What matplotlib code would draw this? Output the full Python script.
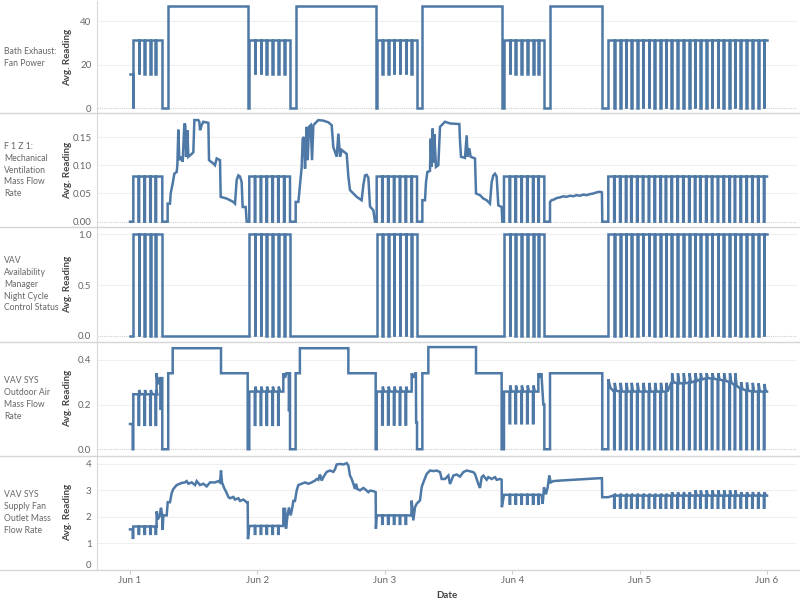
import matplotlib.pyplot as plt
import matplotlib.dates as mdates
from matplotlib.ticker import FixedLocator, FormatStrFormatter
import numpy as np
import pandas as pd

plt.rcParams['font.family'] = ['Lato', 'DejaVu Sans']

# row headers of the small multiples
row_labels = ['Bath Exhaust:\nFan Power',
              'F 1 Z 1:\nMechanical\nVentilation\nMass Flow\nRate',
              'VAV\nAvailability\nManager\nNight Cycle\nControl Status',
              'VAV SYS\nOutdoor Air\nMass Flow\nRate',
              'VAV SYS\nSupply Fan\nOutlet Mass\nFlow Rate']
row_ticks = [[0, 20, 40], [0, 0.05, 0.10, 0.15], [0, 0.5, 1.0], [0, 0.2, 0.4], [0, 1, 2, 3, 4]]
row_fmt = ['%d', '%.2f', '%.1f', '%.1f', '%d']
start_day = '2024-06-01'

# night-cycle on/off dips, hours after Jun 1 00:00
cyc_a = [1.6, 2.7, 3.8, 4.8]
cyc_b = [23.5, 24.6, 25.7, 26.8, 27.9, 29.0]
cyc_c = [47.5, 48.6, 49.7, 50.8, 51.9, 53.0]
cyc_d = [71.5, 72.6, 73.7, 74.8, 75.9, 76.9]
cyc_e = [91.2, 92.3, 93.4, 94.4, 95.5, 96.6, 97.7, 98.8, 99.9, 100.9, 102.0, 103.1, 104.2, 105.3,
         106.4, 107.4, 108.5, 109.6, 110.7, 111.8, 112.9, 113.9, 115.0, 116.1, 117.2, 118.3, 119.4]

oa_base_e = [0.262, 0.258, 0.258, 0.258, 0.258, 0.258, 0.258, 0.258, 0.258, 0.258, 0.30, 0.295, 0.295, 0.298,
             0.305, 0.312, 0.318, 0.316, 0.312, 0.307, 0.30, 0.285, 0.27, 0.262, 0.258, 0.258, 0.258]
oa_peak_e = [0.297, 0.297, 0.297, 0.297, 0.297, 0.297, 0.297, 0.297, 0.297, 0.297, 0.34, 0.34, 0.34, 0.34,
             0.34, 0.34, 0.34, 0.34, 0.34, 0.34, 0.34, 0.34, 0.30, 0.298, 0.297, 0.295, 0.292]
sf_peak_e = [2.87, 2.87, 2.87, 2.87, 2.87, 2.87, 2.87, 2.87, 2.87, 2.87, 2.93, 2.93, 2.93, 2.93,
             3.0, 3.0, 3.0, 3.0, 3.0, 3.0, 3.0, 3.0, 2.93, 2.93, 2.93, 2.93, 2.93]

# each series: ('line', [(hour, value), ...]) or ('cyc', dip hours, from, to, level, dip level, overshoot)
bath_fan = [
    ('line', [(0, 15.7), (0.5, 15.7), (0.5, 0), (0.62, 0)]),
    ('cyc', cyc_a, 0.62, 6.08, 31.3, 15.7, 31.3),
    ('line', [(6.08, 0), (7.2, 0), (7.2, 46.9), (22.17, 46.9), (22.17, 0), (22.47, 0)]),
    ('cyc', cyc_b, 22.47, 30.14, 31.3, 15.7, 31.3),
    ('line', [(30.14, 0), (31.2, 0), (31.2, 46.9), (46.28, 46.9), (46.28, 0), (46.47, 0)]),
    ('cyc', cyc_c, 46.47, 54.07, 31.3, 15.7, 31.3),
    ('line', [(54.07, 0), (55.07, 0), (55.07, 46.9), (70.13, 46.9), (70.13, 0), (70.45, 0)]),
    ('cyc', cyc_d, 70.45, 78.05, 31.3, 15.7, 31.3),
    ('line', [(78.05, 0), (79.12, 0), (79.12, 46.9), (88.97, 46.9), (88.97, 0), (90.1, 0)]),
    ('cyc', cyc_e, 90.1, 120.0, 31.3, 0, 31.3),
]

mech_vent = [
    ('line', [(0, 0), (0.62, 0)]),
    ('cyc', cyc_a, 0.62, 6.08, 0.08, 0, 0.08),
    ('line', [(6.08, 0), (7.09, 0), (7.09, 0.032), (7.53, 0.032), (7.66, 0.05), (8.04, 0.068), (8.35, 0.085),
              (8.79, 0.088), (8.92, 0.10), (9.1, 0.163), (9.29, 0.109), (9.73, 0.115), (9.92, 0.106),
              (10.24, 0.174), (10.42, 0.171), (10.55, 0.115), (10.8, 0.162), (10.99, 0.115), (11.62, 0.12),
              (11.93, 0.123), (12.12, 0.18), (12.87, 0.18), (13.06, 0.177), (13.19, 0.162), (13.5, 0.171),
              (13.81, 0.177), (14.76, 0.175), (14.88, 0.109), (15.7, 0.103), (16.01, 0.1), (16.33, 0.112),
              (16.95, 0.109), (17.08, 0.044), (18.21, 0.041), (19.47, 0.035), (19.78, 0.032), (20.09, 0.074),
              (20.41, 0.082), (20.72, 0.08), (21.03, 0.07), (21.22, 0.026), (21.79, 0.026), (21.98, 0),
              (22.47, 0)]),
    ('cyc', cyc_b, 22.47, 30.14, 0.08, 0, 0.08),
    ('line', [(30.14, 0), (31.21, 0), (31.21, 0.035), (31.71, 0.035), (31.84, 0.047), (32.34, 0.097),
              (32.53, 0.147), (32.78, 0.15), (32.97, 0.094), (33.28, 0.168), (33.47, 0.109), (33.72, 0.168),
              (34.04, 0.171), (34.29, 0.109), (34.54, 0.171), (35.48, 0.18), (36.42, 0.179), (37.36, 0.176),
              (37.99, 0.171), (38.3, 0.132), (38.93, 0.115), (39.25, 0.156), (39.56, 0.115), (39.88, 0.127),
              (40.82, 0.12), (41.13, 0.08), (41.44, 0.056), (42.7, 0.044), (43.64, 0.038), (43.96, 0.065),
              (44.27, 0.082), (44.58, 0.083), (44.9, 0.078), (45.21, 0.027), (45.84, 0.02), (46.15, 0),
              (46.47, 0)]),
    ('cyc', cyc_c, 46.47, 54.07, 0.08, 0, 0.08),
    ('line', [(54.07, 0), (55.07, 0), (55.07, 0.038), (55.57, 0.038), (55.76, 0.07), (56.01, 0.088),
              (56.51, 0.09), (56.64, 0.147), (56.83, 0.097), (57.01, 0.165), (57.14, 0.105), (57.33, 0.155),
              (57.64, 0.097), (58.08, 0.1), (58.4, 0.168), (58.71, 0.171), (59.34, 0.177), (60.28, 0.174),
              (62.04, 0.173), (62.16, 0.144), (62.35, 0.115), (63.1, 0.113), (63.42, 0.153), (63.61, 0.115),
              (63.92, 0.13), (64.17, 0.115), (64.99, 0.112), (65.18, 0.05), (65.93, 0.047), (66.56, 0.041),
              (67.19, 0.038), (67.81, 0.032), (68.13, 0.07), (68.44, 0.082), (68.76, 0.085), (69.07, 0.08),
              (69.38, 0.029), (70.01, 0.026), (70.14, 0), (70.45, 0)]),
    ('cyc', cyc_d, 70.45, 78.05, 0.08, 0, 0.08),
    ('line', [(78.05, 0), (79.12, 0), (79.12, 0.035), (79.4, 0.038), (79.8, 0.039), (80.4, 0.042),
              (81.0, 0.043), (81.6, 0.045), (82.2, 0.044), (82.9, 0.046), (83.5, 0.045), (84.1, 0.047),
              (84.8, 0.046), (85.4, 0.048), (86.0, 0.047), (86.7, 0.049), (87.3, 0.05), (87.9, 0.052),
              (88.5, 0.053), (88.9, 0.052), (88.97, 0), (90.1, 0)]),
    ('cyc', cyc_e, 90.1, 120.0, 0.08, 0, 0.08),
]

night_cycle = [
    ('line', [(0, 0), (0.62, 0)]),
    ('cyc', cyc_a, 0.62, 6.08, 1.0, 0, 1.0),
    ('line', [(6.08, 0), (22.47, 0)]),
    ('cyc', cyc_b, 22.47, 30.14, 1.0, 0, 1.0),
    ('line', [(30.14, 0), (46.47, 0)]),
    ('cyc', cyc_c, 46.47, 54.07, 1.0, 0, 1.0),
    ('line', [(54.07, 0), (70.45, 0)]),
    ('cyc', cyc_d, 70.45, 78.05, 1.0, 0, 1.0),
    ('line', [(78.05, 0), (90.1, 0)]),
    ('cyc', cyc_e, 90.1, 120.0, 1.0, 0, 1.0),
]

outdoor_air = [
    ('line', [(0, 0.113), (0.5, 0.113), (0.5, 0), (0.62, 0)]),
    ('cyc', cyc_a, 0.62, 5.0, 0.246, 0.109, 0.265),
    ('line', [(5.0, 0.34), (5.2, 0.295), (5.5, 0.295), (5.6, 0.318), (5.75, 0.318), (5.8, 0.176),
              (5.85, 0.318), (6.08, 0.318), (6.08, 0), (7.2, 0), (7.2, 0.34), (8.04, 0.34), (8.04, 0.452),
              (17.14, 0.452), (17.14, 0.34), (22.17, 0.34), (22.17, 0), (22.47, 0)]),
    ('cyc', cyc_b[:-1], 22.47, 28.88, 0.258, 0.109, 0.28),
    ('line', [(28.88, 0.34), (29.2, 0.32), (29.45, 0.34), (29.9, 0.34), (29.95, 0.17), (30.05, 0.34),
              (30.14, 0.34), (30.14, 0), (31.2, 0), (31.2, 0.34), (32.0, 0.34), (32.0, 0.452), (41.13, 0.452),
              (41.13, 0.34), (46.28, 0.34), (46.28, 0), (46.47, 0)]),
    ('cyc', cyc_c[:-1], 46.47, 53.06, 0.258, 0.11, 0.28),
    ('line', [(53.06, 0.34), (53.37, 0.32), (53.7, 0.34), (53.85, 0.34), (53.9, 0.12), (54.07, 0.12),
              (54.07, 0), (55.07, 0), (55.07, 0.34), (56.2, 0.34), (56.2, 0.457), (65.18, 0.457),
              (65.18, 0.34), (70.01, 0.34), (70.01, 0), (70.45, 0)]),
    ('cyc', cyc_d[:-1], 70.45, 76.92, 0.258, 0.116, 0.285),
    ('line', [(76.92, 0.34), (77.2, 0.32), (77.5, 0.34), (77.86, 0.2), (78.05, 0.2), (78.05, 0), (79.12, 0),
              (79.12, 0.34), (88.97, 0.34), (88.97, 0), (90.1, 0), (90.1, 0.313), (90.5, 0.275),
              (91.0, 0.262)]),
    ('cyc', cyc_e, 91.0, 120.0, oa_base_e, 0, oa_peak_e),
]

supply_fan = [
    ('line', [(0, 1.52), (0.5, 1.52), (0.5, 1.2), (0.62, 1.2)]),
    ('cyc', cyc_a, 0.62, 5.0, 1.63, 1.35, 1.63),
    ('line', [(5.02, 2.2), (5.21, 1.9), (5.53, 2.0), (5.84, 2.34), (6.03, 2.1), (6.15, 1.5), (6.28, 2.05),
              (6.91, 2.05), (7.1, 2.55), (7.53, 2.55), (7.85, 2.9), (8.16, 3.05), (8.79, 3.2), (9.73, 3.28),
              (10.36, 3.3), (10.67, 3.35), (10.99, 3.25), (11.62, 3.3), (12.25, 3.2), (12.56, 3.35),
              (13.19, 3.2), (13.81, 3.25), (14.44, 3.15), (15.07, 3.3), (16.01, 3.3), (16.64, 3.35),
              (16.95, 3.3), (17.14, 3.75), (17.33, 3.3), (17.71, 3.1), (18.21, 2.9), (18.52, 2.75),
              (18.84, 2.7), (19.47, 2.75), (19.78, 2.65), (20.41, 2.7), (20.72, 2.6), (21.35, 2.65),
              (21.98, 2.55), (22.17, 2.55), (22.22, 1.15), (22.47, 1.65)]),
    ('cyc', cyc_b[:-1], 22.47, 28.88, 1.65, 1.35, 1.65),
    ('line', [(28.89, 2.3), (29.2, 2.3), (29.39, 1.55), (29.64, 2.0), (29.95, 2.35), (30.27, 2.05),
              (30.58, 2.35), (30.77, 2.6), (31.08, 2.6), (31.4, 3.0), (31.71, 3.2), (32.34, 3.25),
              (32.97, 3.3), (33.6, 3.25), (34.22, 3.3), (34.85, 3.37), (35.17, 3.43), (35.48, 3.4),
              (35.79, 3.6), (36.11, 3.37), (36.42, 3.5), (37.05, 3.7), (37.68, 3.75), (38.3, 3.7),
              (38.62, 3.8), (38.93, 3.98), (39.56, 4.0), (40.19, 3.98), (40.82, 4.03), (41.13, 3.94),
              (41.44, 3.56), (41.76, 3.43), (42.07, 3.25), (42.39, 3.05), (42.57, 3.25), (42.83, 3.05),
              (43.33, 3.0), (43.96, 3.09), (44.58, 2.99), (44.9, 2.93), (45.21, 2.99), (45.84, 2.97),
              (46.28, 2.93), (46.32, 1.54), (46.47, 2.05)]),
    ('cyc', cyc_c[:-1], 46.47, 53.0, 2.05, 1.73, 2.05),
    ('line', [(53.06, 2.61), (53.37, 1.86), (53.69, 2.36), (54.0, 2.49), (54.63, 2.62), (54.94, 3.12),
              (55.26, 3.3), (55.88, 3.62), (56.51, 3.75), (57.14, 3.73), (57.77, 3.75), (58.4, 3.69),
              (58.71, 3.43), (59.34, 3.43), (59.97, 3.56), (60.28, 3.24), (60.91, 3.56), (61.54, 3.6),
              (62.16, 3.52), (62.79, 3.69), (63.42, 3.75), (64.05, 3.72), (64.68, 3.69), (64.99, 3.62),
              (65.62, 3.24), (65.93, 3.09), (66.25, 3.5), (66.56, 3.56), (67.19, 3.4), (67.5, 3.5),
              (68.13, 3.43), (68.76, 3.5), (69.07, 3.4), (69.7, 3.43), (70.01, 3.4), (70.05, 2.36),
              (70.45, 2.83)]),
    ('cyc', cyc_d, 70.45, 77.5, 2.83, 2.49, 2.83),
    ('line', [(77.55, 2.85), (77.74, 2.49), (77.99, 3.12), (78.36, 2.85), (78.68, 3.12), (78.99, 3.56),
              (79.25, 3.3), (79.75, 3.35), (81.0, 3.37), (83.51, 3.4), (86.02, 3.43), (88.54, 3.46),
              (88.9, 3.46), (88.95, 2.74), (90.1, 2.74), (91.0, 2.8)]),
    ('cyc', cyc_e, 91.0, 120.0, 2.8, 2.34, sf_peak_e),
]

series = [bath_fan, mech_vent, night_cycle, outdoor_air, supply_fan]


def build(segments, w=0.12):
    t, v = [], []
    for seg in segments:
        if seg[0] == 'line':
            for a, b in seg[1]:
                t.append(a)
                v.append(b)
        else:
            _, cyc, t0, t1, base, low, peak = seg
            base = np.broadcast_to(base, len(cyc))
            peak = np.broadcast_to(peak, len(cyc))
            t.append(t0)
            v.append(base[0])
            for c, b, p in zip(cyc, base, peak):
                t += [c, c, c + w, c + w, c + 3 * w]
                v += [b, low, low, p, b]
            t.append(t1)
            v.append(base[-1])
    return pd.Timestamp(start_day) + pd.to_timedelta(t, unit='h'), np.array(v)


# layout in pixels (800 x 606 figure)
W, H = 800, 606
rows_px = [(1, 113.3), (113.3, 227), (227, 341.5), (341.5, 455.5), (455.5, 569.5)]
ylims = [(-2.3, 49.2), (-0.0094, 0.192), (-0.054, 1.069), (-0.028, 0.482), (0, 4.32)]
x0, x1 = 97, 797
line_col = '#4e79a7'

fig = plt.figure(figsize=(W / 100, H / 100), dpi=100)
xmin = pd.Timestamp(start_day) + pd.Timedelta(hours=-6.22)
xmax = pd.Timestamp(start_day) + pd.Timedelta(hours=125.65)

for i, seg in enumerate(series):
    top, bot = rows_px[i]
    ax = fig.add_axes([x0 / W, 1 - bot / H, (x1 - x0) / W, (bot - top) / H])
    t, v = build(seg)
    ax.plot(t, v, color=line_col, lw=1.8, solid_joinstyle='miter', zorder=3)
    ax.set_xlim(xmin, xmax)
    ax.set_ylim(*ylims[i])
    ax.yaxis.set_major_locator(FixedLocator(row_ticks[i]))
    ax.yaxis.set_major_formatter(FormatStrFormatter(row_fmt[i]))
    ax.tick_params(axis='y', length=0, pad=4, labelsize=7, labelcolor='#666666')
    for yt in row_ticks[i][1:]:
        ax.axhline(yt, color='#efefef', lw=0.8, zorder=1)
    ax.axhline(0, color='#cfcfcf', lw=0.8, ls=(0, (1, 1)), zorder=1)
    for s in ['top', 'right', 'bottom']:
        ax.spines[s].set_visible(False)
    ax.spines['left'].set_color('#d9d9d9')
    ax.spines['left'].set_linewidth(0.8)
    if i < len(series) - 1:
        ax.tick_params(axis='x', bottom=False, labelbottom=False)
    else:
        ax.xaxis.set_major_locator(mdates.DayLocator())
        ax.xaxis.set_major_formatter(mdates.DateFormatter('%b %-d'))
        ax.tick_params(axis='x', length=3, color='#cccccc', pad=1.5, labelsize=7, labelcolor='#666666')
        # keep the lowest label inside the pane, as the source does
        fig.canvas.draw()
        ax.get_yticklabels()[0].set_va('bottom')
    yc = 1 - (top + bot) / 2 / H
    fig.text(4 / W, yc, row_labels[i], ha='left', va='center', fontsize=6.2, color='#666666',
             linespacing=1.4)
    fig.text(68 / W, yc, 'Avg. Reading', ha='center', va='center', rotation=90, fontsize=7,
             color='#444444', fontweight='bold')
    fig.add_artist(plt.Line2D([0, 1], [1 - bot / H, 1 - bot / H], transform=fig.transFigure,
                              color='#d6d6d6', lw=1))

fig.text((x0 + x1) / 2 / W, 1 - 595 / H, 'Date', ha='center', va='center', fontsize=7,
         color='#444444', fontweight='bold')

fig.savefig('out.png', dpi=100)
